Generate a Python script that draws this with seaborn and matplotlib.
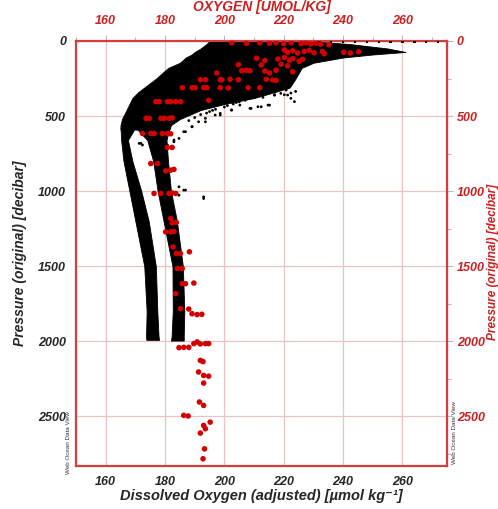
import matplotlib
matplotlib.use("Agg")
import matplotlib.pyplot as plt
import seaborn as sns
import numpy as np
import pandas as pd

# ---------------- data ----------------
# upper mixed mass of CTD profiles (envelope)
upper_pres = [0, 20, 50, 73, 90, 110, 145, 180, 250, 310, 340, 380, 420, 460, 520, 560, 590]
upper_o2_left = [195, 194, 192, 190, 189, 187, 185, 181, 177, 173, 171, 169, 168, 167, 165.5, 165, 165]
upper_o2_right = [228, 242, 255, 261, 250, 240, 230, 226, 224, 222, 217, 210, 200, 192, 185, 182, 181.5]

# deep branch with lower oxygen
left_pres = [575, 660, 800, 1000, 1200, 1500, 1800, 1965, 1990]
left_o2_lo = [165, 165.2, 166, 168, 170, 173, 173.8, 173.6, 173.7]
left_o2_hi = [170, 167.5, 169, 172, 174.5, 176.9, 177.4, 177.8, 178]

# deep branch with higher oxygen
right_pres = [575, 660, 800, 1000, 1200, 1500, 1800, 1970, 1995]
right_o2_lo = [170, 174, 176, 177.5, 179.5, 182.5, 182.6, 182.2, 182]
right_o2_hi = [181.5, 180.5, 181, 182, 184, 186, 186.5, 186.3, 186.3]

# sparse black samples below the mass
sparse_o2 = [208, 209, 212.4, 215.2, 202.4, 196.9, 198.6, 193.6, 191.3, 189.1, 186.9, 184.7, 183,
             171.3, 172.4, 216.9, 219, 221.3, 222.4, 224, 220.2, 211.3, 211.9, 220.8, 221.3,
             222.4, 223.6, 216.9, 214.7, 211.3, 208.6, 205.2, 202.4, 198.6, 193.6, 189.1,
             186.3, 183, 180.8, 180.2, 171.9, 186.3, 193, 184.7, 186.9, 193, 184.7,
             205, 203, 200, 197, 195, 192, 190, 188, 207, 204, 201, 196, 194, 213, 217]
sparse_pres = [382, 449, 438, 427, 460, 493, 482, 515, 538, 571, 604, 649, 671,
               682, 693, 360, 349, 313, 347, 336, 358, 324, 347, 327, 360,
               382, 404, 360, 427, 438, 449, 427, 460, 493, 538, 571,
               604, 660, 693, 727, 682, 993, 1038, 971, 993, 1049, 1027,
               405, 420, 440, 455, 470, 490, 510, 530, 395, 410, 430, 462, 480, 375, 340]

# thin dashed surface trace
surface_o2 = [232, 236, 240, 244, 248, 252, 256, 260, 264, 268, 272]
surface_pres = [4, 4, 4, 4, 4, 4, 4, 4, 4, 4, 4]

# red bottle samples
red_o2 = [202.5, 207.4, 211.9, 215.2, 217.4, 220, 222.5, 225.8, 227.4, 229.1, 230.8, 232.4, 235.2,
          220.2, 221.3, 223, 224.7, 226.9, 228.6, 230.2, 233, 233.6, 240.2, 242.4, 245.2,
          210.8, 213.6, 218, 220.2, 221.9, 223, 225.2, 226.3,
          204.7, 212.4, 219.1, 221.3,
          205.8, 207.4, 208.6, 213.6, 217.4, 223, 197.4, 215.2,
          191.9, 193.6, 198.6, 199.1, 201.9, 204.7, 214.1, 216.3, 217.4,
          185.8, 189.1, 190.2, 193, 194.1, 198.6, 201.3, 208, 211.9,
          176.9, 178, 180.8, 181.9, 183.6, 185.2, 194.7,
          173.6, 174.7, 178.6, 179.7, 181.3, 182.4,
          172.4, 175.2, 176.3, 179.1, 180.8, 181.9,
          180.8, 182.4, 175.2, 177.5, 180.2, 181.9, 183,
          176.3, 178.6, 181.3, 182.4, 183.6,
          181.9, 182.4, 183.8, 180.2, 181.9, 183, 182.7, 188.2, 183.8, 185.2, 184.1, 185.8,
          185.8, 186.9, 189.7, 183.6, 185.2, 188, 189.1, 190.8, 192.4,
          190.8, 189.7, 191.9, 193.6, 194.7, 184.7, 186.3, 188,
          191.9, 192.8, 191.3, 193, 194.7, 193, 191.6, 193, 186.3, 187.8,
          195.2, 193, 193.6, 191.9, 193.3, 192.8]
red_pres = [12, 15, 12, 15, 12, 18, 12, 18, 12, 20, 14, 22, 25,
            60, 75, 65, 80, 70, 62, 78, 70, 85, 75, 80, 72,
            115, 130, 120, 110, 128, 118, 135, 122,
            158, 160, 155, 165,
            198, 195, 198, 200, 195, 205, 213, 213,
            258, 258, 258, 258, 255, 258, 255, 260, 262,
            311, 311, 311, 311, 311, 311, 313, 311, 311,
            404, 404, 404, 404, 404, 404, 395,
            515, 515, 515, 515, 515, 512,
            616, 616, 616, 616, 616, 618,
            709, 709, 816, 816, 865, 860, 855,
            1015, 1015, 1015, 1012, 1015,
            1182, 1211, 1208, 1271, 1271, 1268, 1371, 1404, 1415, 1415, 1515, 1515,
            1616, 1616, 1612, 1682, 1782, 1785, 1816, 1822, 1820,
            2004, 2015, 2017, 2015, 2015, 2042, 2040, 2040,
            2127, 2135, 2204, 2227, 2232, 2278, 2404, 2427, 2493, 2497,
            2538, 2560, 2582, 2611, 2716, 2782]

x_ticks = [160, 180, 200, 220, 240, 260]
y_ticks = [0, 500, 1000, 1500, 2000, 2500]

# ---------------- styling ----------------
sns.set_style("white")
plt.rcParams["font.family"] = ["Liberation Sans", "DejaVu Sans"]

RED = "#cc1f1f"
FRAME = "#d04040"
GRID = "#e9c4c4"
DOT_RED = "#d30000"

fig = plt.figure(figsize=(4.98, 5.09), dpi=100)
ax = fig.add_axes([0.1526, 0.0845, 0.745, 0.835])

ax.set_xlim(150, 275)
ax.set_ylim(2830, 0)

ax.set_xticks(x_ticks)
ax.set_yticks(y_ticks)
ax.set_xticks(np.arange(150, 276, 10), minor=True)
ax.set_yticks(np.arange(0, 2830, 250), minor=True)
ax.grid(True, which="major", color=GRID, lw=0.9, zorder=0)
ax.set_axisbelow(True)

# black CTD profile masses
ax.fill_betweenx(upper_pres, upper_o2_left, upper_o2_right, color="black", lw=0.6, zorder=2)
ax.fill_betweenx(left_pres, left_o2_lo, left_o2_hi, color="black", lw=0.6, zorder=2)
ax.fill_betweenx(right_pres, right_o2_lo, right_o2_hi, color="black", lw=0.6, zorder=2)

sparse_df = pd.DataFrame({"o2": sparse_o2, "pres": sparse_pres})
sns.scatterplot(data=sparse_df, x="o2", y="pres", ax=ax, color="black", s=4,
                edgecolor="none", zorder=3, legend=False)
surf_df = pd.DataFrame({"o2": surface_o2, "pres": surface_pres})
sns.scatterplot(data=surf_df, x="o2", y="pres", ax=ax, color="black", s=3, marker="s",
                edgecolor="none", zorder=3, legend=False)

red_df = pd.DataFrame({"o2": red_o2, "pres": red_pres})
sns.scatterplot(data=red_df, x="o2", y="pres", ax=ax, color=DOT_RED, s=16,
                edgecolor="none", zorder=4, legend=False)

for s in ax.spines.values():
    s.set_color(FRAME)
    s.set_linewidth(1.6)
    s.set_visible(True)

tick_font = dict(fontsize=9, fontweight="bold", fontstyle="italic")
ax.tick_params(axis="both", which="both", direction="out", color="#999999", width=0.8)
ax.tick_params(axis="both", which="major", length=4, pad=3)
ax.tick_params(axis="both", which="minor", length=3)
ax.set_xticklabels([str(v) for v in x_ticks], **tick_font)
ax.set_yticklabels([str(v) for v in y_ticks], **tick_font)

ax.set_xlabel("Dissolved Oxygen (adjusted) [µmol kg⁻¹]", fontsize=10.5,
              fontweight="bold", fontstyle="italic", labelpad=1)
ax.set_ylabel("Pressure (original) [decibar]", fontsize=10,
              fontweight="bold", fontstyle="italic", labelpad=8)

# top axis (red)
top = ax.secondary_xaxis("top")
top.set_xticks(x_ticks)
top.set_xticks(np.arange(150, 276, 10), minor=True)
top.set_xticklabels([str(v) for v in x_ticks], color=RED, **tick_font)
top.tick_params(which="both", direction="out", color="#bbbbbb", width=0.8)
top.tick_params(which="major", length=4, pad=6)
top.tick_params(which="minor", length=3)
top.spines["top"].set_color(FRAME)
top.set_xlabel("OXYGEN [UMOL/KG]", color=RED, fontsize=10, fontweight="bold",
               fontstyle="italic", labelpad=3)

# right axis (red)
right = ax.secondary_yaxis("right")
right.set_yticks(y_ticks)
right.set_yticks(np.arange(0, 2830, 250), minor=True)
right.set_yticklabels([str(v) for v in y_ticks], color=RED, **tick_font)
right.tick_params(which="both", direction="out", color="#bbbbbb", width=0.8)
right.tick_params(which="major", length=4, pad=3)
right.tick_params(which="minor", length=3)
right.spines["right"].set_color(FRAME)

# right-hand pressure label, placed at the figure edge as in the original
fig.text(0.989, 0.485, "Pressure (original) [decibar]", rotation=90, color=RED,
         fontsize=8.5, fontweight="bold", fontstyle="italic", ha="center", va="center")

# watermarks
fig.text(0.137, 0.13, "Web Ocean Data View", rotation=90, fontsize=4.5,
         ha="center", va="center", color="#333333")
fig.text(0.913, 0.15, "Web Ocean Data View", rotation=90, fontsize=4.5,
         ha="center", va="center", color="#333333")

fig.savefig("out.png", dpi=100)
